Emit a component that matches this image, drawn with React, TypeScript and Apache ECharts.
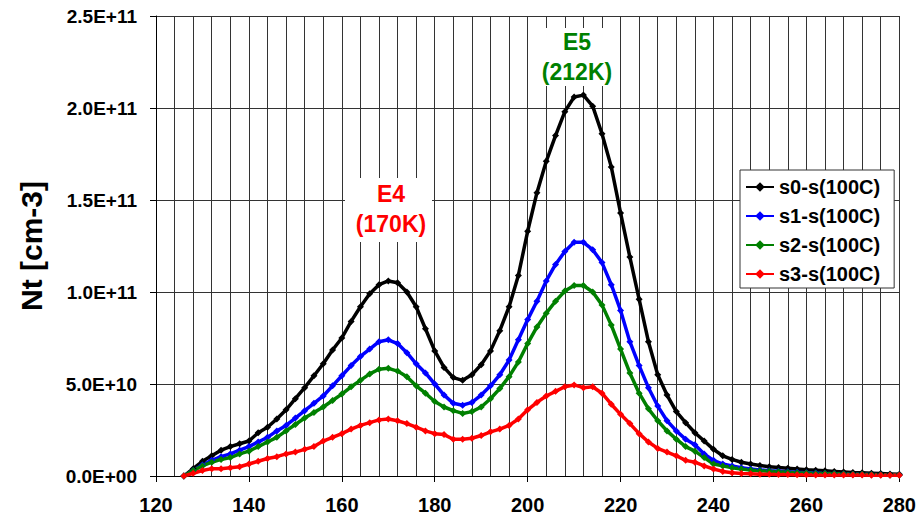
import React, { useEffect, useRef } from "react";
import * as echarts from "echarts";

const temps = [
  126, 128, 130, 132, 134, 136, 138, 140, 142, 144,
  146, 148, 150, 152, 154, 156, 158, 160, 162, 164,
  166, 168, 170, 172, 174, 176, 178, 180, 182, 184,
  186, 188, 190, 192, 194, 196, 198, 200, 202, 204,
  206, 208, 210, 212, 214, 216, 218, 220, 222, 224,
  226, 228, 230, 232, 234, 236, 238, 240, 242, 244,
  246, 248, 250, 252, 254, 256, 258, 260, 262, 264,
  266, 268, 270, 272, 274, 276, 278, 280,
];

// values in units of 1E+10 cm-3
const s0 = [
  0.0, 0.4, 0.8, 1.1, 1.4, 1.6, 1.75, 1.9, 2.35, 2.65,
  3.1, 3.6, 4.2, 4.8, 5.45, 6.1, 6.85, 7.5, 8.4, 9.2,
  9.9, 10.4, 10.6, 10.5, 10.0, 9.2, 8.0, 6.8, 5.9, 5.35,
  5.2, 5.5, 6.05, 6.8, 7.9, 9.2, 10.9, 13.3, 15.4, 17.1,
  18.5, 19.8, 20.6, 20.7, 20.1, 18.6, 16.8, 14.3, 11.9, 9.6,
  7.3, 5.5, 4.4, 3.5, 2.9, 2.35, 1.9, 1.45, 1.1, 0.9,
  0.75, 0.65, 0.57, 0.5, 0.46, 0.42, 0.38, 0.34, 0.31, 0.28,
  0.25, 0.22, 0.19, 0.17, 0.15, 0.13, 0.11, 0.09,
];
const s1 = [
  0.0, 0.3, 0.6, 0.85, 1.05, 1.2, 1.4, 1.6, 1.85, 2.1,
  2.45, 2.75, 3.15, 3.55, 3.95, 4.35, 4.9, 5.45, 6.0, 6.5,
  6.9, 7.3, 7.4, 7.2, 6.7, 6.1, 5.6, 5.0, 4.4, 3.95,
  3.85, 4.0, 4.4, 4.9, 5.5, 6.3, 7.4, 8.5, 9.5, 10.6,
  11.5, 12.2, 12.7, 12.7, 12.3, 11.6, 10.4, 9.0, 7.3, 6.0,
  4.8, 3.8, 3.0, 2.45, 2.0, 1.7, 1.2, 0.85, 0.65, 0.55,
  0.45, 0.38, 0.33, 0.29, 0.26, 0.23, 0.2, 0.18, 0.16, 0.14,
  0.12, 0.11, 0.1, 0.09, 0.08, 0.07, 0.06, 0.05,
];
const s2 = [
  0.0, 0.3, 0.55, 0.75, 0.9, 1.0, 1.2, 1.35, 1.6, 1.85,
  2.1, 2.45, 2.8, 3.15, 3.45, 3.75, 4.1, 4.45, 4.85, 5.2,
  5.55, 5.8, 5.85, 5.7, 5.4, 4.9, 4.5, 4.05, 3.75, 3.55,
  3.4, 3.5, 3.75, 4.2, 4.75, 5.4, 6.2, 7.2, 8.1, 8.85,
  9.5, 10.05, 10.35, 10.35, 10.0, 9.3, 8.2, 6.9, 5.6, 4.5,
  3.65, 3.0, 2.45, 2.0, 1.6, 1.35, 1.0, 0.65, 0.55, 0.45,
  0.38, 0.33, 0.29, 0.26, 0.23, 0.21, 0.18, 0.16, 0.14, 0.13,
  0.12, 0.11, 0.1, 0.09, 0.08, 0.07, 0.06, 0.05,
];
const s3 = [
  0.0, 0.15, 0.3, 0.4, 0.4, 0.45, 0.5, 0.65, 0.8, 0.95,
  1.05, 1.2, 1.3, 1.45, 1.6, 1.9, 2.1, 2.3, 2.55, 2.75,
  2.9, 3.05, 3.1, 3.0, 2.85, 2.65, 2.45, 2.3, 2.25, 2.0,
  2.0, 2.05, 2.2, 2.4, 2.55, 2.75, 3.1, 3.6, 4.0, 4.35,
  4.6, 4.85, 4.95, 4.8, 4.85, 4.5, 3.9, 3.35, 2.85, 2.3,
  1.85, 1.5, 1.3, 1.1, 0.85, 0.75, 0.55, 0.38, 0.25, 0.18,
  0.14, 0.12, 0.1, 0.09, 0.08, 0.08, 0.07, 0.07, 0.06, 0.06,
  0.05, 0.05, 0.05, 0.05, 0.04, 0.04, 0.04, 0.04,
];

const seriesNames = ["s0-s(100C)", "s1-s(100C)", "s2-s(100C)", "s3-s(100C)"];
const seriesColors = ["#000000", "#0000ff", "#008000", "#ff0000"];
const yTickLabels = ["0.0E+00", "5.0E+10", "1.0E+11", "1.5E+11", "2.0E+11", "2.5E+11"];

const FONT = '"Liberation Sans", Arial, sans-serif';

export default function App() {
  const ref = useRef<HTMLDivElement>(null);
  useEffect(() => {
    if (!ref.current) return;
    const chart = echarts.init(ref.current, null, { renderer: "svg" });
    const all = [s0, s1, s2, s3];
    const textStyle = (txt: string, color: string, x: number, y: number) => ({
      type: "text",
      x,
      y,
      z: 100,
      style: {
        text: txt,
        fill: color,
        fontSize: 23,
        fontWeight: "bold",
        fontFamily: FONT,
        align: "center",
        verticalAlign: "middle",
        textAlign: "center",
        textVerticalAlign: "middle",
      },
    });
    chart.setOption({
      animation: false,
      backgroundColor: "#ffffff",
      grid: { left: 156, top: 16, width: 744, height: 460, containLabel: false },
      xAxis: {
        type: "value",
        min: 120,
        max: 280,
        interval: 20,
        axisLine: { show: true, onZero: false, lineStyle: { color: "#000", width: 1 } },
        axisTick: { show: true, length: 6, lineStyle: { color: "#000" } },
        axisLabel: {
          color: "#000",
          fontSize: 20,
          fontWeight: "bold",
          fontFamily: FONT,
          margin: 19,
        },
        splitLine: { show: true, lineStyle: { color: "#333333", width: 1 } },
        minorTick: { show: false, splitNumber: 5 },
        minorSplitLine: { show: true, lineStyle: { color: "#333333", width: 1 } },
      },
      yAxis: {
        type: "value",
        min: 0,
        max: 25,
        interval: 5,
        name: "Nt [cm-3]",
        nameLocation: "middle",
        nameRotate: 90,
        nameGap: 110,
        nameTextStyle: { color: "#000", fontSize: 30, fontWeight: "bold", fontFamily: FONT },
        axisLine: { show: true, lineStyle: { color: "#000", width: 1 } },
        axisTick: { show: true, length: 6, lineStyle: { color: "#000" } },
        axisLabel: {
          color: "#000",
          fontSize: 19,
          fontWeight: "bold",
          fontFamily: FONT,
          margin: 19,
          formatter: (v: number) => yTickLabels[Math.round(v / 5)] ?? "",
        },
        splitLine: { show: true, lineStyle: { color: "#333333", width: 1 } },
      },
      legend: {
        orient: "vertical",
        left: 740,
        top: 170,
        backgroundColor: "#ffffff",
        borderColor: "#333",
        borderWidth: 1,
        borderRadius: 0,
        padding: [7, 14, 4, 5],
        itemWidth: 28,
        itemHeight: 12,
        itemGap: 9,
        textStyle: {
          color: "#000",
          fontSize: 20,
          fontWeight: "bold",
          fontFamily: FONT,
          lineHeight: 20,
        },
        data: seriesNames,
      },
      graphic: [
        { type: "rect", z: 99, shape: { x: 345, y: 178, width: 87, height: 64 }, style: { fill: "#ffffff" } },
        { type: "rect", z: 99, shape: { x: 541, y: 28, width: 71, height: 58 }, style: { fill: "#ffffff" } },
        textStyle("E4", "#ff0000", 391, 194),
        textStyle("(170K)", "#ff0000", 391, 224),
        textStyle("E5", "#008000", 577, 42),
        textStyle("(212K)", "#008000", 577, 72),
      ],
      series: all.map((vals, k) => ({
        name: seriesNames[k],
        type: "line",
        data: temps.map((t, i) => [t, vals[i]]),
        color: seriesColors[k],
        symbol: "diamond",
        symbolSize: 7,
        showSymbol: true,
        showAllSymbol: true,
        lineStyle: { width: 3.5, color: seriesColors[k] },
        itemStyle: { color: seriesColors[k] },
        emphasis: { disabled: true },
        clip: false,
      })),
    });
    return () => chart.dispose();
  }, []);
  return (
    <div
      ref={ref}
      style={{ position: "fixed", left: 0, top: 0, width: 919, height: 521, background: "#fff" }}
    />
  );
}
